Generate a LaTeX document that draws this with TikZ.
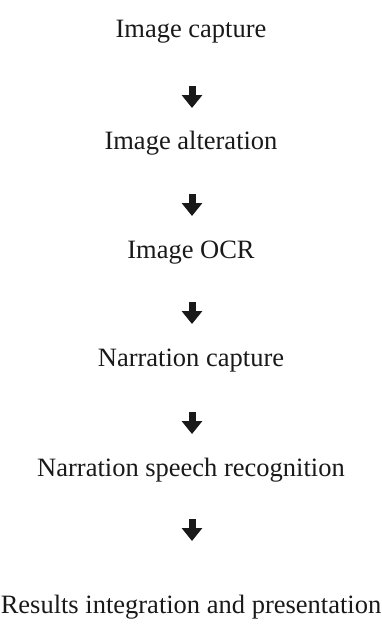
\documentclass[tikz,border=0pt]{standalone}
\usepackage{fontspec}
\setmainfont{Liberation Serif}
\usetikzlibrary{arrows.meta}
\tikzset{
  steptext/.style={inner sep=0pt, font=\fontsize{26.5}{31}\selectfont, text=black!90},
  blockarrow/.style={line width=7pt, black!90, -{Triangle[width=20pt,length=13pt]}}
}
\begin{document}
\begin{tikzpicture}[x=1pt,y=-1pt]
\useasboundingbox (0,0) rectangle (382,629);
\node[steptext] (n1) at (191,32) {Image capture};
\node[steptext] (n2) at (191,143) {Image alteration};
\node[steptext] (n3) at (191,253) {Image OCR};
\node[steptext] (n4) at (191,361) {Narration capture};
\node[steptext] (n5) at (191,470) {Narration speech recognition};
\node[steptext] (n6) at (191,607) {Results integration and presentation};
\foreach \i/\y in {1/97,2/205,3/313,4/423,5/530}{
  \coordinate (s\i) at (192,\y-11);
  \coordinate (e\i) at (192,\y+11);
}
\draw[blockarrow] (s1) -- (e1);
\draw[blockarrow] (s2) -- (e2);
\draw[blockarrow] (s3) -- (e3);
\draw[blockarrow] (s4) -- (e4);
\draw[blockarrow] (s5) -- (e5);
\end{tikzpicture}
\end{document}
